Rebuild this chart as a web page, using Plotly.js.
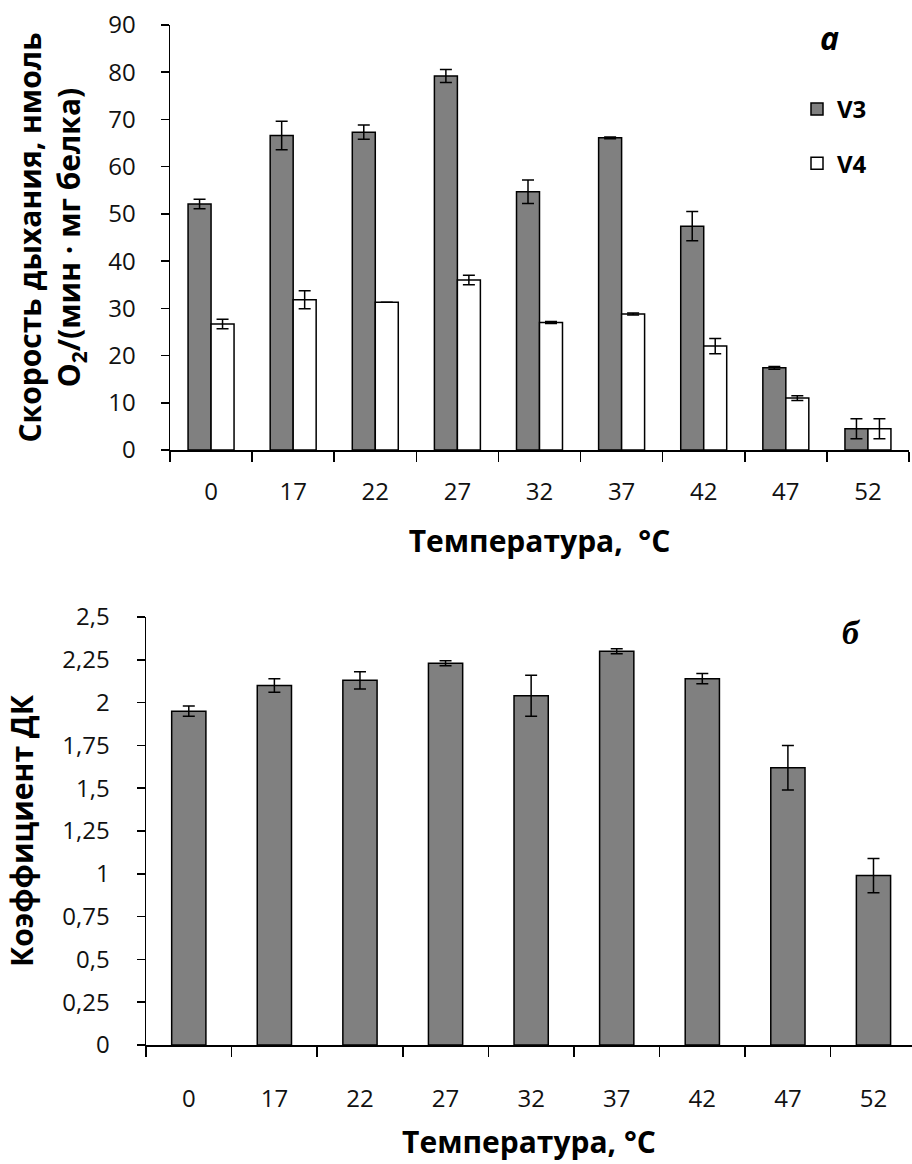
<!DOCTYPE html>
<html>
<head>
<meta charset="utf-8">
<script src="https://cdn.plot.ly/plotly-3.0.1.min.js"></script>
<style>html,body{margin:0;padding:0;background:#fff;}#chart{width:912px;height:1164px;}</style>
</head>
<body>
<div id="chart"></div>
<script>
// ---- data ----
const categories = ['0', '17', '22', '27', '32', '37', '42', '47', '52'];
const v3Values = [52.1, 66.6, 67.3, 79.2, 54.7, 66.1, 47.4, 17.4, 4.5];
const v3Errors = [1.0, 3.0, 1.5, 1.4, 2.5, 0.2, 3.1, 0.3, 2.1];
const v4Values = [26.7, 31.8, 31.3, 36.0, 27.0, 28.8, 22.0, 11.0, 4.5];
const v4Errors = [1.0, 1.9, 0, 1.0, 0.2, 0.2, 1.6, 0.5, 2.1];
const dkValues = [1.95, 2.10, 2.13, 2.23, 2.04, 2.30, 2.14, 1.62, 0.99];
const dkErrors = [0.03, 0.04, 0.05, 0.015, 0.12, 0.015, 0.03, 0.13, 0.10];
const seriesNames = ['V3', 'V4'];

const W = 912, H = 1164;
const FONT = '"Open Sans", "Noto Sans", sans-serif';
const errStyle = {color: '#000', thickness: 1.5, width: 6};

const traces = [
  {
    type: 'bar', name: seriesNames[0], x: categories, y: v3Values,
    xaxis: 'x', yaxis: 'y', legendgroup: 'g1',
    offset: -0.28, width: 0.28,
    marker: {color: '#808080', line: {color: '#000', width: 1.5}},
    error_y: Object.assign({type: 'data', array: v3Errors, visible: true}, errStyle)
  },
  {
    type: 'bar', name: seriesNames[1], x: categories, y: v4Values,
    xaxis: 'x', yaxis: 'y', legendgroup: 'g2',
    offset: 0, width: 0.28,
    marker: {color: '#ffffff', line: {color: '#000', width: 1.5}},
    error_y: Object.assign({type: 'data', array: v4Errors, visible: true}, errStyle)
  },
  {
    type: 'bar', name: 'ДК', x: categories, y: dkValues,
    xaxis: 'x2', yaxis: 'y2', showlegend: false,
    offset: -0.2, width: 0.4,
    marker: {color: '#808080', line: {color: '#000', width: 1.5}},
    error_y: Object.assign({type: 'data', array: dkErrors, visible: true}, errStyle)
  }
];

const axisCommon = {
  showline: true, linecolor: '#000', linewidth: 1.5,
  ticks: 'outside', tickcolor: '#000', tickwidth: 1.5,
  showgrid: false, zeroline: false,
  tickfont: {family: FONT, size: 24, color: '#111'}
};
const titleFont = {family: FONT, size: 30, color: '#000', weight: 'bold'};

const layout = {
  width: W, height: H,
  margin: {l: 0, r: 0, t: 0, b: 0},
  paper_bgcolor: '#fff', plot_bgcolor: '#fff',
  separators: ', ',
  barmode: 'group',
  showlegend: true,
  legend: {
    x: 797 / W, y: 1 - 87 / H, xanchor: 'left', yanchor: 'top',
    font: {family: FONT, size: 24, color: '#000', weight: 'bold'},
    tracegroupgap: 20, bgcolor: 'rgba(0,0,0,0)'
  },
  xaxis: Object.assign({}, axisCommon, {
    domain: [170 / W, 909 / W], anchor: 'y', type: 'category',
    range: [-0.5, 8.5], tickson: 'boundaries', ticklen: 10,
    ticklabelstandoff: 20,
    title: {text: 'Температура,\u00a0 °С\u00a0\u00a0\u00a0\u00a0\u00a0\u00a0\u00a0\u00a0\u00a0', font: titleFont, standoff: 24}
  }),
  yaxis: Object.assign({}, axisCommon, {
    domain: [1 - 450 / H, 1 - 25 / H], anchor: 'x',
    range: [0, 90], dtick: 10, ticklen: 8, ticklabelstandoff: 20,
    title: {text: 'Скорость дыхания, нмоль<br>O<sub>2</sub>/(мин · мг белка)', font: titleFont, standoff: 18}
  }),
  xaxis2: Object.assign({}, axisCommon, {
    domain: [146 / W, 1], anchor: 'y2', type: 'category',
    range: [-0.5, 8.45], tickson: 'boundaries', ticklen: 10,
    ticklabelstandoff: 32,
    title: {text: 'Температура, °С', font: titleFont, standoff: 18}
  }),
  yaxis2: Object.assign({}, axisCommon, {
    domain: [1 - 1045 / H, 1 - 617 / H], anchor: 'x2',
    range: [0, 2.5], dtick: 0.25, ticklen: 8, ticklabelstandoff: 22,
    title: {text: 'Коэффициент ДК', font: titleFont, standoff: 20}
  }),
  annotations: [
    {text: 'а', xref: 'paper', yref: 'paper', x: 829 / W, y: 1 - 38 / H,
     xanchor: 'center', yanchor: 'middle', showarrow: false,
     font: {family: FONT, size: 32, color: '#000', weight: 'bold', style: 'italic'}},
    {text: 'б', xref: 'paper', yref: 'paper', x: 851 / W, y: 1 - 632 / H,
     xanchor: 'center', yanchor: 'middle', showarrow: false,
     font: {family: '"Liberation Serif", serif', size: 34, color: '#000', weight: 'bold', style: 'italic'}}
  ]
};

Plotly.newPlot('chart', traces, layout, {displayModeBar: false, staticPlot: true});
</script>
</body>
</html>
